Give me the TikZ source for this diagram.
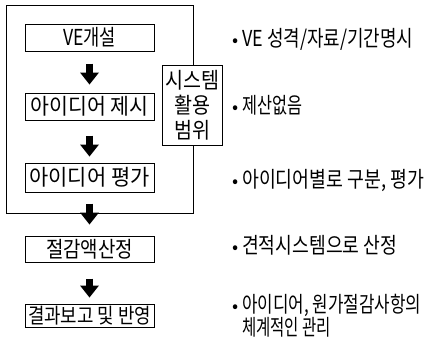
\documentclass[tikz,border=0pt]{standalone}
\usepackage{fontspec}
\setmainfont{Noto Sans CJK KR}
\usetikzlibrary{arrows.meta}
\newcommand{\fitw}[2]{\resizebox{#1}{1.1\height}{#2}}
\newcommand{\fitn}[2]{\resizebox{#1}{1.22\height}{#2}}
\begin{document}
\begin{tikzpicture}[x=1pt,y=-1pt,
  stepbox/.style={draw,line width=1pt,minimum width=129pt,inner sep=0pt,font=\fontsize{20}{22}\selectfont},
  down/.style={line width=7pt,-{Triangle[width=19pt,length=12pt,line width=0pt]}},
  note/.style={anchor=west,font=\fontsize{18}{23}\selectfont,inner sep=0pt,align=left}]
\useasboundingbox (0,0) rectangle (438,346);
\node[draw,line width=0.8pt,minimum width=187pt,minimum height=208pt,inner sep=0pt,anchor=north west] (outer) at (6,5) {};
\node[stepbox,minimum height=27pt] (b1) at (89.5,37.5) {\fitw{53pt}{VE개설}};
\node[stepbox,minimum height=27pt] (b2) at (89.5,106.5) {\fitw{118pt}{아이디어 제시}};
\node[stepbox,minimum height=29pt] (b3) at (89.5,177.5) {\fitw{120pt}{아이디어 평가}};
\node[stepbox,minimum height=26pt] (b4) at (89.5,249) {\fitw{87pt}{절감액산정}};
\node[stepbox,minimum height=23pt] (b5) at (89.5,315.5) {\resizebox{123pt}{1.05\height}{결과보고 및 반영}};
\node[draw,fill=white,line width=1pt,minimum width=60pt,minimum height=80pt,inner sep=0pt,align=center,
      font=\fontsize{20}{25}\selectfont] (sys) at (192,105) {\fitw{54pt}{시스템}\\\fitw{36pt}{활용}\\\fitw{36pt}{범위}};
\draw[down,shorten <=12pt,shorten >=8pt] (b1.south) -- (b2.north);
\draw[down,shorten <=15pt,shorten >=6pt] (b2.south) -- (b3.north);
\draw[down,shorten <=11pt,shorten >=11pt] (b3.south) -- (b4.north);
\draw[down,shorten <=16pt,shorten >=6pt] (b4.south) -- (b5.north);
\node[note] (n1) at (242,39) {\llap{•\hspace{3.5pt}}\fitn{171pt}{VE 성격/자료/기간명시}};
\node[note] (n2) at (242,105) {\llap{•\hspace{3.5pt}}\fitn{60pt}{제산없음}};
\node[note] (n3) at (242,180) {\llap{•\hspace{3.5pt}}\fitn{182pt}{아이디어별로 구분, 평가}};
\node[note] (n4) at (242,245) {\llap{•\hspace{3.5pt}}\fitn{155pt}{견적시스템으로 산정}};
\node[note] (n5) at (242,316) {\llap{•\hspace{3.5pt}}\fitn{179pt}{아이디어, 원가절감사항의}\\\fitn{89pt}{체계적인 관리}};
\end{tikzpicture}
\end{document}
